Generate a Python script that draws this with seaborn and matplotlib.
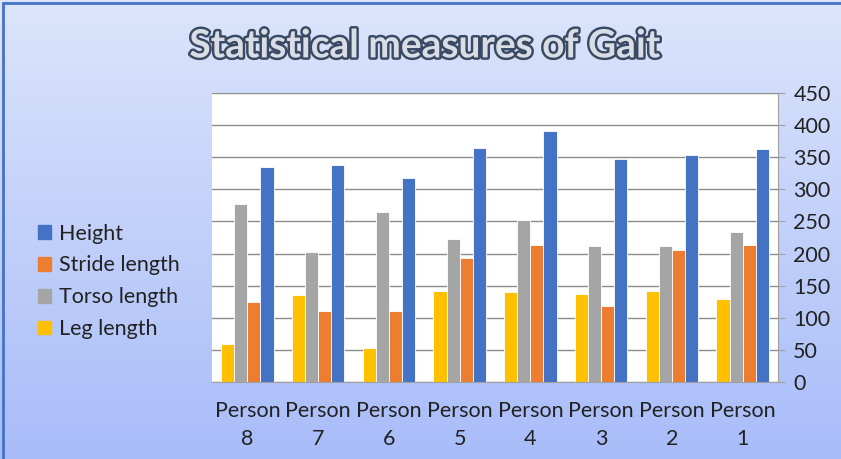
import numpy as np
import pandas as pd
import matplotlib
matplotlib.use("Agg")
import matplotlib.pyplot as plt
import matplotlib.patheffects as pe
from matplotlib.patches import Rectangle, Patch
import seaborn as sns

persons = ["Person\n8", "Person\n7", "Person\n6", "Person\n5",
           "Person\n4", "Person\n3", "Person\n2", "Person\n1"]
leg_length = [59, 136, 53, 141, 140, 137, 141, 129]
torso_length = [277, 203, 265, 223, 252, 211, 211, 233]
stride_length = [125, 111, 110, 193, 213, 118, 206, 214]
height = [335, 338, 317, 364, 391, 347, 353, 363]

series = ["Leg length", "Torso length", "Stride length", "Height"]
colors = ["#FFC000", "#A5A5A5", "#ED7D31", "#4472C4"]

df = pd.DataFrame({
    "person": persons * 4,
    "measure": np.repeat(series, len(persons)),
    "value": leg_length + torso_length + stride_length + height,
})

sns.set_style("white")
plt.rcParams["font.family"] = ["Lato", "DejaVu Sans"]

fig = plt.figure(figsize=(8.41, 4.59), dpi=100)

# gradient background
bg = fig.add_axes([0, 0, 1, 1], zorder=-2)
grad = np.linspace(0, 1, 256).reshape(-1, 1)
cmap = matplotlib.colors.LinearSegmentedColormap.from_list(
    "bg", ["#DCE5FB", "#A8BCF9"])
bg.imshow(grad, aspect="auto", cmap=cmap, extent=[0, 1, 0, 1])
bg.set_axis_off()
fig.patches.append(Rectangle((0.004, -0.01), 1.2, 1.003, transform=fig.transFigure,
                             fill=False, edgecolor="#4472C4", linewidth=2))

ax = fig.add_axes([212 / 841, 1 - 382 / 459, 566 / 841, 289 / 459])
ax.set_facecolor("white")
sns.barplot(data=df, x="person", y="value", hue="measure", hue_order=series,
            palette=colors, width=0.74, saturation=1, ax=ax,
            edgecolor="white", linewidth=0.6, legend=False)

ax.set_ylim(0, 450)
ax.set_yticks(range(0, 451, 50))
ax.yaxis.tick_right()
ax.grid(axis="y", color="#8C8C8C", linewidth=1)
ax.set_axisbelow(True)
for s in ["left", "top"]:
    ax.spines[s].set_visible(False)
ax.spines["right"].set_color("#A0A0A0")
ax.spines["bottom"].set_color("#A0A0A0")
ax.set_xlabel("")
ax.set_ylabel("")
ax.tick_params(axis="y", labelsize=15.5, length=5, color="#A0A0A0", pad=6, right=True)
ax.tick_params(axis="x", labelsize=15.5, length=0, pad=14)
for t in ax.get_xticklabels():
    t.set_linespacing(1.45)
    t.set_color("#222222")
for t in ax.get_yticklabels():
    t.set_color("#222222")
ax.set_xticks(np.arange(-0.5, 8, 1), minor=True)
ax.tick_params(axis="x", which="minor", length=5, color="#A0A0A0")

fig.text(0.505, 0.9, "Statistical measures of Gait", ha="center", va="center",
         fontsize=28, color="#D9DDE6", fontweight="bold",
         path_effects=[pe.withStroke(linewidth=3.5, foreground="#3A4A63")])

handles = [Patch(color=c) for c in colors[::-1]]
fig.legend(handles, series[::-1], loc="center left",
           bbox_to_anchor=(0.022, 0.387), frameon=False, fontsize=15.5,
           handlelength=0.6, handleheight=0.6, handletextpad=0.4,
           labelspacing=0.55, labelcolor="#222222")

fig.savefig("out.png", dpi=100)
